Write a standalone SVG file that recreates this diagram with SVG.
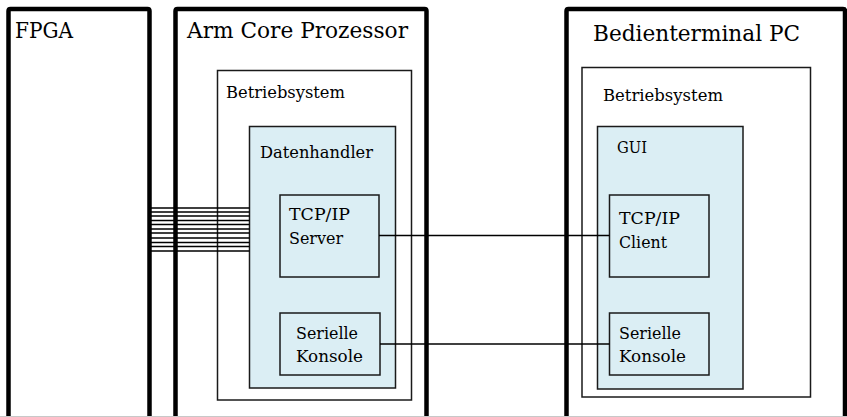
<svg xmlns="http://www.w3.org/2000/svg" width="847" height="417" viewBox="0 0 847 417">
  <style>
    .big { fill: #ffffff; stroke: #000000; stroke-width: 4.5; }
    .os { fill: #ffffff; stroke: #1a1a1a; stroke-width: 1.5; }
    .app { fill: #dbeef4; stroke: #1a1a1a; stroke-width: 1.5; }
    .mod { fill: #dbeef4; stroke: #1a1a1a; stroke-width: 1.5; }
    .wire { stroke: #000000; stroke-width: 1.3; fill: none; }
    .title { font-family: "DejaVu Serif", "Liberation Serif", serif; font-size: 22px; fill: #000000; }
    .lbl { font-family: "DejaVu Serif", "Liberation Serif", serif; font-size: 16.5px; fill: #000000; }
  </style>

  <rect width="847" height="417" fill="#ffffff"/>

  <!-- FPGA -->
  <g id="fpga">
    <path class="big" d="M8.5,420 V11 Q8.5,9 10.5,9 H147.5 Q149.5,9 149.5,11 V420"/>
    <text class="title" x="15" y="38" textLength="58" lengthAdjust="spacingAndGlyphs">FPGA</text>
  </g>

  <!-- Arm core processor -->
  <g id="arm-core">
    <path class="big" d="M175.5,420 V11 Q175.5,9 177.5,9 H424.5 Q426.5,9 426.5,11 V420"/>
    <text class="title" x="187" y="38" textLength="221" lengthAdjust="spacingAndGlyphs">Arm Core Prozessor</text>
  </g>
  <g id="arm-os">
    <rect class="os" x="217.5" y="70.5" width="194" height="329.5"/>
    <text class="lbl" x="226" y="98" textLength="119" lengthAdjust="spacingAndGlyphs">Betriebsystem</text>
  </g>
  <g id="datenhandler">
    <rect class="app" x="249.5" y="126.5" width="146" height="261.5"/>
    <text class="lbl" x="260" y="158" textLength="113" lengthAdjust="spacingAndGlyphs">Datenhandler</text>
  </g>
  <g id="tcp-server">
    <rect class="mod" x="280" y="195" width="99" height="82"/>
    <text class="lbl" x="289" y="220" textLength="61" lengthAdjust="spacingAndGlyphs">TCP/IP</text>
    <text class="lbl" x="289" y="244" textLength="54" lengthAdjust="spacingAndGlyphs">Server</text>
  </g>
  <g id="serial-server">
    <rect class="mod" x="280" y="313" width="100" height="62"/>
    <text class="lbl" x="296" y="339" textLength="62" lengthAdjust="spacingAndGlyphs">Serielle</text>
    <text class="lbl" x="296" y="362" textLength="67" lengthAdjust="spacingAndGlyphs">Konsole</text>
  </g>

  <!-- Operator terminal PC -->
  <g id="pc">
    <path class="big" d="M566.5,420 V11 Q566.5,9 568.5,9 H843 Q845,9 845,11 V420"/>
    <text class="title" x="593" y="40.5" textLength="207" lengthAdjust="spacingAndGlyphs">Bedienterminal PC</text>
  </g>
  <g id="pc-os">
    <rect class="os" x="582" y="67.5" width="228.5" height="329.5"/>
    <text class="lbl" x="603" y="101" textLength="120" lengthAdjust="spacingAndGlyphs">Betriebsystem</text>
  </g>
  <g id="gui">
    <rect class="app" x="597.5" y="126.5" width="145.5" height="262.5"/>
    <text class="lbl" x="617" y="153" textLength="30" lengthAdjust="spacingAndGlyphs">GUI</text>
  </g>
  <g id="tcp-client">
    <rect class="mod" x="609.5" y="195" width="99.5" height="82"/>
    <text class="lbl" x="619" y="224" textLength="61" lengthAdjust="spacingAndGlyphs">TCP/IP</text>
    <text class="lbl" x="619" y="248" textLength="48" lengthAdjust="spacingAndGlyphs">Client</text>
  </g>
  <g id="serial-client">
    <rect class="mod" x="609.5" y="313" width="99.5" height="62"/>
    <text class="lbl" x="619" y="339" textLength="62" lengthAdjust="spacingAndGlyphs">Serielle</text>
    <text class="lbl" x="619" y="362" textLength="67" lengthAdjust="spacingAndGlyphs">Konsole</text>
  </g>

  <!-- Connectors -->
  <g id="connectors">
    <!-- parallel bus FPGA -> Datenhandler -->
    <path class="wire" d="M151,208 H249.5 M151,212 H249.5 M151,216 H249.5 M151,220.5 H249.5 M151,224.5 H249.5 M151,229 H249.5 M151,233 H249.5 M151,238 H249.5 M151,242.5 H249.5 M151,246.5 H249.5 M151,251 H249.5"/>
    <!-- TCP/IP link -->
    <path class="wire" d="M379,235.5 H609.5"/>
    <!-- serial link -->
    <path class="wire" d="M380,344 H609.5"/>
  </g>

  <line x1="0" y1="416.5" x2="847" y2="416.5" stroke="#c8c8c8" stroke-width="1"/>
</svg>
